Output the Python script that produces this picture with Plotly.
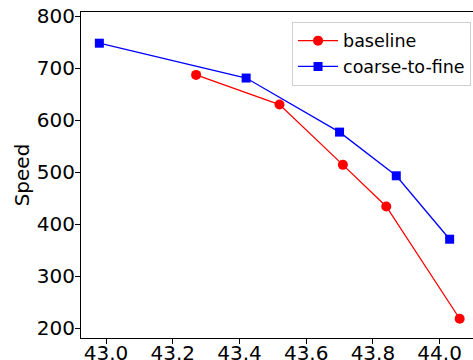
import plotly.graph_objects as go

baseline_x = [43.27, 43.52, 43.71, 43.84, 44.06]
baseline_y = [687, 630, 514, 434, 218]
c2f_x = [42.98, 43.42, 43.70, 43.87, 44.03]
c2f_y = [748, 681, 577, 493, 371]

x_ticks = [43.0, 43.2, 43.4, 43.6, 43.8, 44.0]
y_ticks = [200, 300, 400, 500, 600, 700, 800]

fig = go.Figure()
fig.add_trace(go.Scatter(x=baseline_x, y=baseline_y, mode="lines+markers", name="baseline",
                         line=dict(color="red", width=1.3),
                         marker=dict(symbol="circle", size=10, color="red")))
fig.add_trace(go.Scatter(x=c2f_x, y=c2f_y, mode="lines+markers", name="coarse-to-fine",
                         line=dict(color="blue", width=1.3),
                         marker=dict(symbol="square", size=9, color="blue")))

font = dict(family="DejaVu Sans", size=20, color="black")
fig.update_layout(
    width=473, height=360,
    margin=dict(l=81, r=0, t=12, b=22),
    paper_bgcolor="white", plot_bgcolor="white",
    font=font,
    showlegend=True,
    legend=dict(x=0.995, y=0.97, xanchor="right", yanchor="top",
                bgcolor="rgba(255,255,255,0.8)", bordercolor="#d0d0d0", borderwidth=1,
                font=dict(family="DejaVu Sans", size=17.5, color="black"),
                itemwidth=40, tracegroupgap=0),
    xaxis=dict(range=[42.925, 44.10], tickvals=x_ticks, ticktext=[f"{v:.1f}" for v in x_ticks],
               showgrid=False, zeroline=False, showline=True, linecolor="black", linewidth=1,
               mirror=True, ticks="outside", ticklen=5, tickcolor="black", tickfont=font,
               automargin=False, ticklabelstandoff=-8),
    yaxis=dict(range=[181, 808], tickvals=y_ticks,
               showgrid=False, zeroline=False, showline=True, linecolor="black", linewidth=1,
               ticks="outside", ticklen=5, tickcolor="black", tickfont=font,
               automargin=False, ticklabelstandoff=-4,
               title=dict(text="Speed", font=font, standoff=1)),
)
fig.write_html("out.html")
